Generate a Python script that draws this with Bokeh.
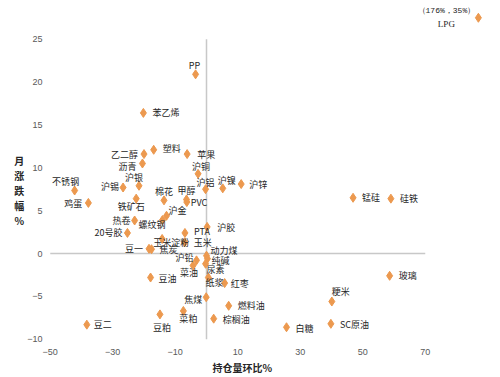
from bokeh.plotting import figure
from bokeh.models import ColumnDataSource, FixedTicker, Range1d, Title
from bokeh.core.properties import value
from bokeh.embed import file_html
from bokeh.resources import INLINE

# ---------------- data ----------------
names = ["PP", "苯乙烯", "乙二醇", "塑料", "苹果", "沥青", "沪铜", "沪银", "沪锡", "沪铝",
         "沪镍", "沪锌", "不锈钢", "鸡蛋", "棉花", "甲醇", "PVC", "铁矿石", "沪金", "热卷",
         "螺纹钢", "20号胶", "PTA", "沪胶", "玉米", "玉米淀粉", "焦炭", "豆一", "动力煤", "纯碱",
         "沪铅", "菜油", "尿素", "纸浆", "红枣", "豆油", "焦煤", "燃料油", "菜粕", "豆粕",
         "棕榈油", "豆二", "白糖", "SC原油", "粳米", "玻璃", "锰硅", "硅铁"]
oi_change = [-3.5, -20.2, -20.0, -16.9, -6.2, -20.5, -2.7, -21.6, -26.7, -0.3,
             5.2, 11.1, -42.2, -37.8, -13.6, -6.4, -6.3, -22.5, -12.8, -23.0,
             -14.1, -25.3, -6.9, 0.2, -7.0, -14.2, -17.6, -18.4, 0.0, 0.3,
             -3.2, -4.3, -0.3, 0.6, 5.8, -17.9, -0.1, 7.1, -7.4, -14.9,
             2.3, -38.3, 25.6, 39.8, 40.1, 58.6, 46.9, 59.0]
month_change = [20.9, 16.4, 11.6, 12.1, 11.6, 10.5, 9.3, 7.9, 7.7, 7.5,
                7.6, 8.1, 7.35, 5.9, 6.2, 6.3, 6.0, 6.4, 4.4, 3.85,
                3.9, 2.4, 2.4, 3.1, 1.3, 1.7, 0.5, 0.55, -0.25, -0.6,
                -0.8, -1.4, -1.2, -2.8, -3.45, -2.8, -5.1, -6.1, -6.7, -7.1,
                -7.6, -8.3, -8.6, -8.2, -5.6, -2.6, 6.5, 6.4]

# LPG is off the chart: true values, and the clipped spot where it is drawn
lpg_name = "LPG"
lpg_actual = (176, 35)
lpg_shown_x = [87.0]
lpg_shown_y = [27.5]

x_ticks = [-50, -30, -10, 10, 30, 50, 70]
y_ticks = [-10, -5, 0, 5, 10, 15, 20, 25]
x_title = "持仓量环比%"
y_title_chars = ["月", "涨", "跌", "幅", "%"]

# ---------------- label placement (styles) ----------------
placement = {
    "PP": (-1, -9, "center"), "苯乙烯": (9, 0, "left"), "乙二醇": (-6, 0, "right"),
    "塑料": (9, -1, "left"), "苹果": (10, 0, "left"), "沥青": (-6, 3, "right"),
    "沪铜": (3, -7, "center"), "沪银": (-5, -8, "center"), "沪锡": (-4, -1, "right"),
    "沪铝": (0, -7, "center"), "沪镍": (4, -8, "center"), "沪锌": (8, 0, "left"),
    "不锈钢": (-9, -9, "center"), "鸡蛋": (-6, 1, "right"), "棉花": (0, -9, "center"),
    "甲醇": (0, -9, "center"), "PVC": (4, 0, "left"), "铁矿石": (-5, 8, "center"),
    "沪金": (2, -5, "left"), "热卷": (-4, 0, "right"), "螺纹钢": (3, 4, "right"),
    "20号胶": (-5, 0, "right"), "PTA": (9, -1, "left"), "沪胶": (10, 1, "left"),
    "玉米": (9, 0, "left"), "玉米淀粉": (-9, 4, "left"), "焦炭": (8, 0, "left"),
    "豆一": (-6, 0, "right"), "动力煤": (4, -5, "left"), "纯碱": (4, 2, "left"),
    "沪铅": (-3, -3, "right"), "菜油": (-4, 7, "center"), "尿素": (1, 6, "left"),
    "纸浆": (-3, 5, "left"), "红枣": (6, 0, "left"), "豆油": (8, 1, "left"),
    "焦煤": (-4, 2, "right"), "燃料油": (9, 0, "left"), "菜粕": (5, 8, "center"),
    "豆粕": (2, 13, "center"), "棕榈油": (9, 1, "left"), "豆二": (7, 0, "left"),
    "白糖": (9, 1, "left"), "SC原油": (9, 1, "left"), "粳米": (9, -10, "center"),
    "玻璃": (9, 0, "left"), "锰硅": (9, 0, "left"), "硅铁": (9, 0, "left"),
}

ORANGE = "#EC994F"
AXIS_GRAY = "#C8C8C8"
TEXT = "#262626"
TICK = "#595959"
CJK = "Noto Sans CJK SC"

src = ColumnDataSource(dict(
    x=oi_change, y=month_change, name=names,
    dx=[placement[n][0] for n in names],
    dy=[placement[n][1] for n in names],
    align=[placement[n][2] for n in names],
))

p = figure(width=500, height=377, output_backend="svg", toolbar_location=None,
           x_range=Range1d(-50.56, 92.48), y_range=Range1d(-10.73, 28.93),
           min_border_left=48, min_border_right=5, min_border_top=5, min_border_bottom=32,
           background_fill_color="white", border_fill_color="white")
p.outline_line_color = None
p.grid.visible = False

for ax in (p.xaxis, p.yaxis):
    ax.axis_line_color = None
    ax.major_tick_line_color = None
    ax.minor_tick_line_color = None
    ax.major_tick_out = 0
    ax.major_tick_in = 0
    ax.minor_tick_out = 0
    ax.minor_tick_in = 0
    ax.major_label_text_font = "Liberation Sans"
    ax.major_label_text_font_size = "9px"
    ax.major_label_text_color = TICK
    ax.axis_label_text_font = CJK
    ax.axis_label_text_font_size = "10px"
    ax.axis_label_text_font_style = "bold"
    ax.axis_label_text_color = TEXT
p.xaxis.ticker = FixedTicker(ticks=x_ticks)
p.yaxis.ticker = FixedTicker(ticks=y_ticks)
p.xaxis.bounds = (x_ticks[0], x_ticks[-1])
p.yaxis.bounds = (y_ticks[0], y_ticks[-1])
p.xaxis.major_label_standoff = 3
p.yaxis.major_label_standoff = 6

# y title: stacked characters (two blank lines lower the block to sit beside the data)
p.yaxis.axis_label = "\n\n" + "\n".join(y_title_chars)
p.yaxis.axis_label_orientation = "horizontal"
p.yaxis.axis_label_text_line_height = 1.0
p.yaxis.axis_label_standoff = 0

# x title below the axis, left-aligned at an offset
p.add_layout(Title(text=x_title, align="left", offset=164, standoff=0,
                   text_font=CJK, text_font_size="10px", text_font_style="bold",
                   text_color=TEXT), "below")

# zero lines (axes crossing at 0)
p.segment(x0=[x_ticks[0], 0], y0=[0, y_ticks[0]], x1=[x_ticks[-1], 0], y1=[0, y_ticks[-1]],
          line_color=AXIS_GRAY, line_width=1.5)

# points
p.scatter("x", "y", source=src, marker="diamond", size=9, color=ORANGE)
p.text("x", "y", text="name", source=src, x_offset="dx", y_offset="dy",
       text_align="align", text_baseline="middle", text_font=value(CJK),
       text_font_size="9px", text_color=TEXT)

# LPG (off-scale point)
p.scatter(lpg_shown_x, lpg_shown_y, marker="diamond", size=9, color=ORANGE)
p.text(lpg_shown_x, lpg_shown_y, text=[lpg_name], x_offset=-32, y_offset=6,
       text_align="center", text_baseline="middle", text_font=value("Liberation Serif"),
       text_font_size="9px", text_color=TEXT)
p.text(lpg_shown_x, lpg_shown_y, text=["（%d%%，%d%%）" % lpg_actual], x_offset=-32, y_offset=-7,
       text_align="center", text_baseline="middle", text_font=value("Liberation Mono"),
       text_font_size="8px", text_color=TEXT)

open("out.html", "w").write(file_html(p, INLINE))
